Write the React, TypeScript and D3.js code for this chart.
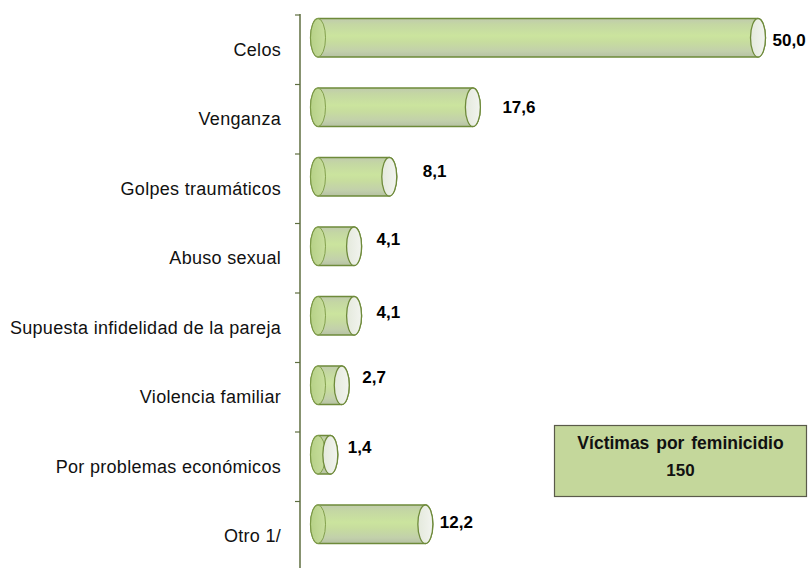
import React from "react";
import * as d3 from "d3";

const categories = [
  "Celos",
  "Venganza",
  "Golpes traumáticos",
  "Abuso sexual",
  "Supuesta infidelidad de la pareja",
  "Violencia familiar",
  "Por problemas económicos",
  "Otro 1/",
];
const values = [50.0, 17.6, 8.1, 4.1, 4.1, 2.7, 1.4, 12.2];
const valueLabels = ["50,0", "17,6", "8,1", "4,1", "4,1", "2,7", "1,4", "12,2"];
const boxTitle = "Víctimas por feminicidio";
const boxValue = "150";

// layout nudges for value labels (as placed in the original)
const labelDx = [7, 22, 26, 15, 15, 13, 10, 7];
const labelDy = [2.5, 0, -5, -7, -3, -8, -7, -2];

const W = 808;
const H = 568;

export default function App() {
  const x = d3.scaleLinear().domain([0, 55]).range([318, 318 + 55 * 8.8]);
  const y = d3.scaleBand<string>().domain(categories).range([15, 571]).paddingInner(0);
  const rx = 7.5;
  const barOff = 3.5;
  const barH = 38.5;
  const ry = barH / 2;
  const axisX = 300;
  const tickVals = d3.range(categories.length + 1).map((i) => 15 + i * y.step());

  return (
    <svg width={W} height={H} style={{ position: "absolute", left: 0, top: 0, background: "#fff" }}
      fontFamily="'Liberation Sans', Arial, sans-serif">
      <defs>
        <linearGradient id="body" x1="0" y1="0" x2="0" y2="1">
          <stop offset="0" stopColor="#c0cbad" />
          <stop offset="0.15" stopColor="#c4d7a3" />
          <stop offset="0.45" stopColor="#cbe49e" />
          <stop offset="0.6" stopColor="#c7dd9e" />
          <stop offset="0.85" stopColor="#c2d0ab" />
          <stop offset="1" stopColor="#b6c1a4" />
        </linearGradient>
        <linearGradient id="cap" x1="0" y1="0" x2="1" y2="0">
          <stop offset="0" stopColor="#e4e9dc" />
          <stop offset="1" stopColor="#f2f4ef" />
        </linearGradient>
        <linearGradient id="leftcap" x1="0" y1="0" x2="1" y2="0">
          <stop offset="0" stopColor="#b5d085" />
          <stop offset="1" stopColor="#c9df9e" />
        </linearGradient>
      </defs>

      {/* axis */}
      <line x1={axisX} x2={axisX} y1={14} y2={H} stroke="#5f6e40" strokeWidth={1.5} />
      {tickVals.map((t, i) => (
        <line key={i} x1={axisX - 5} x2={axisX} y1={t} y2={t} stroke="#5f6e40" strokeWidth={1.2} />
      ))}

      {categories.map((c, i) => {
        const x0 = x(0);
        const x1 = x(values[i]);
        const top = (y(c) as number) + barOff;
        const bot = top + barH;
        const cy = top + ry;
        const body = `M${x0},${top} L${x1},${top} A${rx},${ry} 0 0 1 ${x1},${bot} L${x0},${bot} A${rx},${ry} 0 0 1 ${x0},${top} Z`;
        return (
          <g key={c}>
            <path d={body} fill="url(#body)" stroke="#6e8a3a" strokeWidth={1.3} />
            <ellipse cx={x0} cy={cy} rx={rx} ry={ry} fill="url(#leftcap)" stroke="#7c9a45" strokeWidth={1} opacity={0.9} />
            <ellipse cx={x1} cy={cy} rx={rx} ry={ry} fill="url(#cap)" stroke="#6e8a3a" strokeWidth={1.3} />
            <text
              x={x1 + rx + labelDx[i]}
              y={cy + labelDy[i]}
              dominantBaseline="central"
              fontWeight="bold"
              fontSize={17}
              fill="#000"
            >
              {valueLabels[i]}
            </text>
            <text
              x={281}
              y={(y(c) as number) + y.bandwidth() / 2}
              dominantBaseline="central"
              textAnchor="end"
              fontSize={18}
              letterSpacing={0.3}
              fill="#111"
            >
              {c}
            </text>
          </g>
        );
      })}

      {/* info box */}
      <rect x={554.5} y={425.5} width={252} height={71} fill="#c4d79b" stroke="#5a5a4a" strokeWidth={1.2} />
      <text x={680.5} y={443} textAnchor="middle" dominantBaseline="central" fontWeight="bold" fontSize={17.5} wordSpacing={2} fill="#111">
        {boxTitle}
      </text>
      <text x={680.5} y={470} textAnchor="middle" dominantBaseline="central" fontWeight="bold" fontSize={17} fill="#111">
        {boxValue}
      </text>
    </svg>
  );
}
